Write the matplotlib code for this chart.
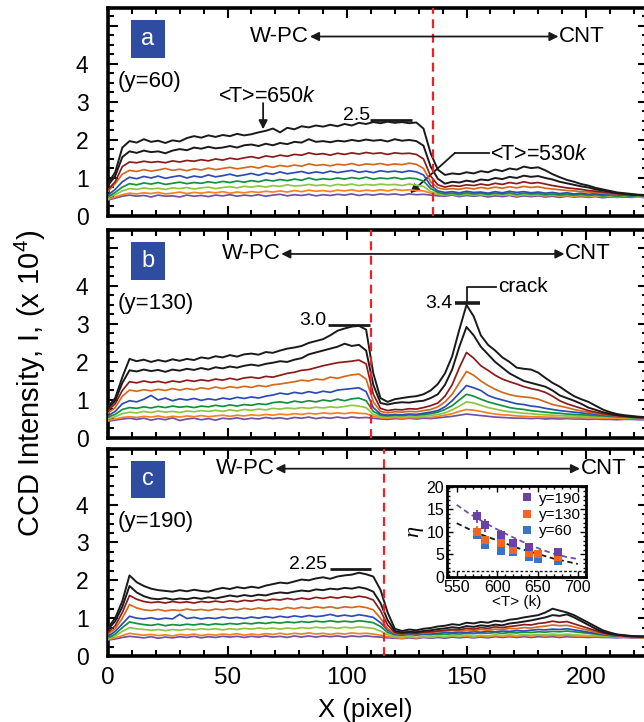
import matplotlib
matplotlib.use("Agg")
import matplotlib.pyplot as plt
from matplotlib.patches import Rectangle
from matplotlib.lines import Line2D
from matplotlib.ticker import MultipleLocator

plt.rcParams['font.family'] = ['Liberation Sans', 'DejaVu Sans']
plt.rcParams['mathtext.fontset'] = 'custom'
plt.rcParams['mathtext.rm'] = 'Liberation Sans'
plt.rcParams['mathtext.it'] = 'Liberation Sans:italic'
plt.rcParams['mathtext.bf'] = 'Liberation Sans:bold'

# ---------------- data ----------------
x_pixel = list(range(0, 226, 3))

series_colors = ['#1a1a1a', '#1a1a1a', '#8b1a1a', '#d2691e', '#2e4bb3',
                 '#139040', '#8dc641', '#f58220', '#7350a0']

# panel a (y=60)
a_black1 = [0.85, 1.15, 1.80, 1.97, 1.93, 2.02, 1.95, 1.98, 1.92, 1.99,
            1.96, 2.05, 2.10, 2.06, 2.12, 2.08, 2.13, 2.10, 2.16, 2.12,
            2.15, 2.20, 2.24, 2.30, 2.20, 2.32, 2.28, 2.36, 2.33, 2.38,
            2.35, 2.40, 2.36, 2.42, 2.38, 2.45, 2.42, 2.47, 2.44, 2.48,
            2.45, 2.47, 2.44, 2.46, 2.30, 1.65, 1.22, 1.08, 1.12, 1.10,
            1.15, 1.12, 1.18, 1.15, 1.22, 1.18, 1.25, 1.22, 1.30, 1.26,
            1.28, 1.20, 1.10, 1.02, 0.95, 0.90, 0.84, 0.80, 0.74, 0.70,
            0.66, 0.62, 0.60, 0.58, 0.56, 0.55]
a_black2 = [0.80, 1.05, 1.55, 1.70, 1.66, 1.72, 1.68, 1.70, 1.65, 1.72,
            1.76, 1.73, 1.80, 1.77, 1.82, 1.78, 1.80, 1.84, 1.80, 1.86,
            1.88, 1.84, 1.90, 1.86, 1.92, 1.89, 1.95, 1.93, 2.02, 1.95,
            1.97, 1.94, 1.98, 1.96, 2.00, 1.97, 2.01, 1.98, 2.00, 1.96,
            2.02, 1.98, 2.00, 1.97, 1.85, 1.30, 0.98, 0.85, 0.90, 0.88,
            0.93, 0.90, 0.96, 0.94, 1.00, 0.97, 1.03, 1.00, 1.06, 1.03,
            1.05, 1.00, 0.96, 0.90, 0.86, 0.82, 0.78, 0.75, 0.70, 0.67,
            0.64, 0.60, 0.58, 0.56, 0.55, 0.54]
a_darkred = [0.70, 0.90, 1.30, 1.42, 1.40, 1.44, 1.41, 1.43, 1.40, 1.45,
             1.42, 1.46, 1.44, 1.48, 1.45, 1.50, 1.47, 1.52, 1.49, 1.53,
             1.56, 1.52, 1.58, 1.55, 1.60, 1.57, 1.62, 1.60, 1.66, 1.62,
             1.64, 1.60, 1.65, 1.62, 1.66, 1.63, 1.67, 1.64, 1.66, 1.62,
             1.66, 1.64, 1.65, 1.62, 1.50, 1.05, 0.82, 0.76, 0.80, 0.78,
             0.82, 0.80, 0.84, 0.81, 0.86, 0.83, 0.88, 0.85, 0.90, 0.86,
             0.88, 0.84, 0.80, 0.77, 0.74, 0.72, 0.70, 0.67, 0.65, 0.63,
             0.61, 0.59, 0.58, 0.56, 0.55, 0.54]
a_brown = [0.65, 0.85, 1.10, 1.20, 1.17, 1.22, 1.18, 1.21, 1.25, 1.20,
           1.23, 1.19, 1.24, 1.21, 1.26, 1.22, 1.25, 1.28, 1.24, 1.27,
           1.30, 1.26, 1.32, 1.28, 1.33, 1.30, 1.34, 1.31, 1.37, 1.33,
           1.35, 1.32, 1.36, 1.34, 1.38, 1.33, 1.37, 1.35, 1.38, 1.34,
           1.37, 1.35, 1.39, 1.36, 1.25, 0.90, 0.74, 0.70, 0.72, 0.70,
           0.74, 0.71, 0.75, 0.72, 0.76, 0.73, 0.77, 0.74, 0.78, 0.75,
           0.77, 0.73, 0.71, 0.69, 0.67, 0.66, 0.64, 0.63, 0.62, 0.60,
           0.59, 0.58, 0.57, 0.56, 0.55, 0.54]
a_blue = [0.55, 0.70, 0.90, 1.02, 0.98, 1.04, 1.00, 1.05, 0.99, 1.03,
          1.06, 1.00, 1.05, 1.02, 1.08, 1.03, 1.06, 1.10, 1.05, 1.08,
          1.12, 1.07, 1.13, 1.10, 1.16, 1.11, 1.14, 1.17, 1.12, 1.16,
          1.13, 1.18, 1.14, 1.17, 1.20, 1.15, 1.18, 1.14, 1.19, 1.16,
          1.18, 1.15, 1.19, 1.16, 1.08, 0.80, 0.66, 0.62, 0.64, 0.61,
          0.65, 0.62, 0.63, 0.60, 0.64, 0.61, 0.65, 0.62, 0.64, 0.61,
          0.63, 0.60, 0.62, 0.59, 0.61, 0.58, 0.60, 0.57, 0.59, 0.56,
          0.58, 0.56, 0.55, 0.54, 0.55, 0.53]
a_green = [0.50, 0.62, 0.76, 0.85, 0.82, 0.87, 0.84, 0.88, 0.83, 0.86,
           0.89, 0.85, 0.88, 0.86, 0.90, 0.87, 0.91, 0.88, 0.92, 0.89,
           0.93, 0.90, 0.95, 0.92, 0.96, 0.93, 0.97, 0.94, 1.00, 0.95,
           0.98, 0.96, 1.00, 0.97, 1.01, 0.98, 1.02, 0.97, 1.00, 0.98,
           1.01, 0.97, 1.00, 0.98, 0.92, 0.72, 0.62, 0.58, 0.60, 0.57,
           0.61, 0.58, 0.60, 0.57, 0.60, 0.58, 0.61, 0.57, 0.60, 0.58,
           0.59, 0.56, 0.58, 0.55, 0.57, 0.55, 0.57, 0.54, 0.56, 0.53,
           0.55, 0.52, 0.54, 0.52, 0.54, 0.52]
a_lgreen = [0.48, 0.56, 0.66, 0.72, 0.70, 0.74, 0.71, 0.73, 0.70, 0.74,
            0.72, 0.75, 0.71, 0.74, 0.76, 0.72, 0.75, 0.77, 0.74, 0.78,
            0.76, 0.79, 0.76, 0.80, 0.78, 0.82, 0.79, 0.80, 0.83, 0.80,
            0.82, 0.79, 0.83, 0.81, 0.84, 0.80, 0.83, 0.81, 0.84, 0.82,
            0.83, 0.80, 0.84, 0.81, 0.78, 0.64, 0.58, 0.56, 0.58, 0.55,
            0.58, 0.56, 0.57, 0.55, 0.58, 0.55, 0.57, 0.54, 0.57, 0.55,
            0.56, 0.54, 0.56, 0.53, 0.55, 0.53, 0.55, 0.52, 0.54, 0.52,
            0.53, 0.51, 0.53, 0.52, 0.51, 0.52]
a_orange = [0.44, 0.50, 0.56, 0.60, 0.58, 0.61, 0.59, 0.62, 0.58, 0.60,
            0.63, 0.59, 0.62, 0.60, 0.63, 0.61, 0.64, 0.60, 0.63, 0.61,
            0.64, 0.62, 0.65, 0.63, 0.66, 0.63, 0.67, 0.64, 0.68, 0.65,
            0.67, 0.64, 0.68, 0.66, 0.69, 0.65, 0.68, 0.66, 0.69, 0.66,
            0.70, 0.67, 0.69, 0.67, 0.66, 0.60, 0.57, 0.55, 0.57, 0.54,
            0.57, 0.55, 0.56, 0.54, 0.57, 0.55, 0.56, 0.53, 0.56, 0.54,
            0.55, 0.53, 0.55, 0.52, 0.54, 0.52, 0.54, 0.51, 0.53, 0.51,
            0.52, 0.50, 0.52, 0.51, 0.50, 0.51]
a_purple = [0.42, 0.47, 0.52, 0.55, 0.52, 0.54, 0.50, 0.55, 0.52, 0.53,
            0.50, 0.55, 0.52, 0.54, 0.51, 0.55, 0.53, 0.56, 0.52, 0.55,
            0.53, 0.56, 0.52, 0.55, 0.57, 0.53, 0.56, 0.54, 0.57, 0.53,
            0.56, 0.54, 0.57, 0.55, 0.58, 0.54, 0.57, 0.55, 0.58, 0.56,
            0.58, 0.55, 0.58, 0.56, 0.57, 0.55, 0.53, 0.52, 0.55, 0.51,
            0.54, 0.52, 0.54, 0.50, 0.53, 0.51, 0.54, 0.50, 0.53, 0.51,
            0.53, 0.50, 0.52, 0.49, 0.52, 0.50, 0.51, 0.49, 0.51, 0.48,
            0.50, 0.49, 0.50, 0.49, 0.50, 0.48]

# panel b (y=130)
b_black1 = [0.82, 1.05, 1.60, 2.08, 2.02, 2.06, 2.00, 2.05, 2.01, 2.07,
            2.03, 2.08, 2.05, 2.12, 2.09, 2.15, 2.12, 2.18, 2.14, 2.20,
            2.22, 2.19, 2.26, 2.24, 2.30, 2.35, 2.38, 2.42, 2.50, 2.55,
            2.60, 2.70, 2.82, 2.88, 2.93, 2.95, 2.85, 1.70, 1.05, 0.95,
            1.02, 1.05, 1.08, 1.10, 1.15, 1.25, 1.42, 1.70, 2.15, 2.85,
            3.50, 3.20, 2.70, 2.45, 2.30, 2.12, 2.00, 1.85, 1.82, 1.80,
            1.72, 1.58, 1.45, 1.35, 1.22, 1.10, 1.02, 0.95, 0.85, 0.75,
            0.68, 0.63, 0.60, 0.58, 0.56, 0.55]
b_black2 = [0.78, 0.98, 1.45, 1.78, 1.75, 1.80, 1.76, 1.79, 1.74, 1.80,
            1.77, 1.82, 1.79, 1.84, 1.80, 1.86, 1.83, 1.88, 1.85, 1.90,
            1.93, 1.90, 1.95, 1.98, 2.02, 2.00, 2.06, 2.10, 2.20, 2.25,
            2.30, 2.35, 2.40, 2.48, 2.42, 2.45, 2.30, 1.40, 0.92, 0.88,
            0.92, 0.94, 0.93, 0.96, 0.98, 1.05, 1.15, 1.40, 1.80, 2.40,
            2.92, 2.70, 2.40, 2.20, 2.00, 1.85, 1.70, 1.60, 1.50, 1.45,
            1.40, 1.35, 1.25, 1.12, 1.05, 0.98, 0.90, 0.80, 0.74, 0.68,
            0.64, 0.60, 0.58, 0.56, 0.55, 0.54]
b_darkred = [0.72, 0.90, 1.25, 1.48, 1.45, 1.50, 1.46, 1.49, 1.45, 1.50,
             1.47, 1.52, 1.49, 1.53, 1.50, 1.55, 1.52, 1.57, 1.53, 1.58,
             1.60, 1.57, 1.62, 1.60, 1.65, 1.70, 1.73, 1.78, 1.80, 1.85,
             1.90, 1.94, 1.98, 2.00, 2.02, 2.05, 1.95, 1.15, 0.78, 0.72,
             0.75, 0.74, 0.77, 0.76, 0.80, 0.85, 0.92, 1.10, 1.40, 1.85,
             2.25, 2.10, 1.90, 1.78, 1.65, 1.55, 1.48, 1.42, 1.35, 1.30,
             1.26, 1.20, 1.10, 0.98, 0.90, 0.84, 0.78, 0.72, 0.68, 0.64,
             0.61, 0.59, 0.57, 0.55, 0.54, 0.53]
b_brown = [0.65, 0.80, 1.10, 1.26, 1.23, 1.27, 1.24, 1.28, 1.25, 1.30,
           1.26, 1.30, 1.27, 1.32, 1.29, 1.34, 1.30, 1.35, 1.32, 1.36,
           1.33, 1.38, 1.35, 1.40, 1.42, 1.45, 1.48, 1.52, 1.50, 1.55,
           1.53, 1.60, 1.57, 1.62, 1.66, 1.68, 1.55, 0.95, 0.70, 0.66,
           0.69, 0.68, 0.70, 0.69, 0.72, 0.75, 0.82, 0.95, 1.15, 1.45,
           1.75, 1.65, 1.50, 1.38, 1.28, 1.20, 1.14, 1.10, 1.08, 1.06,
           1.02, 0.95, 0.88, 0.84, 0.80, 0.75, 0.71, 0.68, 0.65, 0.62,
           0.60, 0.58, 0.56, 0.55, 0.54, 0.53]
b_blue = [0.58, 0.70, 0.90, 0.98, 0.95, 1.02, 1.12, 1.00, 1.05, 0.98,
          1.03, 1.00, 1.04, 0.99, 1.03, 1.00, 1.05, 1.02, 1.07, 1.04,
          1.08, 1.05, 1.10, 1.13, 1.18, 1.15, 1.20, 1.17, 1.22, 1.18,
          1.23, 1.20, 1.26, 1.28, 1.30, 1.32, 1.22, 0.80, 0.63, 0.60,
          0.62, 0.61, 0.63, 0.62, 0.65, 0.68, 0.72, 0.82, 0.98, 1.18,
          1.38, 1.32, 1.25, 1.12, 1.05, 1.00, 0.95, 0.90, 0.88, 0.84,
          0.82, 0.78, 0.75, 0.72, 0.70, 0.68, 0.66, 0.64, 0.62, 0.60,
          0.59, 0.57, 0.56, 0.55, 0.54, 0.53]
b_green = [0.55, 0.62, 0.75, 0.80, 0.78, 0.82, 0.79, 0.83, 0.80, 0.84,
           0.81, 0.83, 0.80, 0.84, 0.82, 0.86, 0.83, 0.87, 0.84, 0.88,
           0.86, 0.90, 0.88, 0.93, 0.95, 0.92, 0.97, 0.94, 0.98, 0.95,
           1.00, 0.97, 1.02, 0.98, 1.03, 1.05, 0.98, 0.70, 0.60, 0.58,
           0.60, 0.59, 0.61, 0.60, 0.62, 0.64, 0.68, 0.75, 0.85, 1.00,
           1.15, 1.10, 1.02, 0.95, 0.90, 0.85, 0.80, 0.77, 0.75, 0.72,
           0.70, 0.68, 0.66, 0.65, 0.63, 0.62, 0.61, 0.60, 0.59, 0.58,
           0.57, 0.56, 0.55, 0.54, 0.53, 0.53]
b_lgreen = [0.50, 0.56, 0.64, 0.68, 0.66, 0.70, 0.67, 0.71, 0.68, 0.70,
            0.67, 0.71, 0.69, 0.72, 0.70, 0.73, 0.70, 0.74, 0.71, 0.75,
            0.73, 0.76, 0.74, 0.78, 0.76, 0.79, 0.77, 0.80, 0.78, 0.81,
            0.79, 0.82, 0.80, 0.83, 0.86, 0.84, 0.80, 0.62, 0.56, 0.55,
            0.56, 0.55, 0.57, 0.56, 0.58, 0.59, 0.62, 0.66, 0.74, 0.84,
            0.95, 0.92, 0.86, 0.80, 0.76, 0.72, 0.69, 0.67, 0.65, 0.64,
            0.62, 0.61, 0.60, 0.59, 0.58, 0.58, 0.57, 0.56, 0.56, 0.55,
            0.55, 0.54, 0.54, 0.53, 0.53, 0.52]
b_orange = [0.46, 0.50, 0.54, 0.56, 0.54, 0.57, 0.55, 0.58, 0.54, 0.57,
            0.55, 0.58, 0.56, 0.59, 0.56, 0.58, 0.60, 0.57, 0.60, 0.58,
            0.61, 0.59, 0.62, 0.60, 0.63, 0.61, 0.64, 0.62, 0.65, 0.63,
            0.66, 0.64, 0.66, 0.64, 0.67, 0.65, 0.64, 0.57, 0.53, 0.52,
            0.54, 0.52, 0.54, 0.53, 0.55, 0.54, 0.57, 0.60, 0.64, 0.70,
            0.75, 0.73, 0.70, 0.66, 0.63, 0.61, 0.60, 0.58, 0.57, 0.56,
            0.56, 0.55, 0.55, 0.54, 0.54, 0.53, 0.54, 0.53, 0.53, 0.52,
            0.52, 0.52, 0.51, 0.51, 0.51, 0.50]
b_purple = [0.44, 0.47, 0.50, 0.52, 0.49, 0.52, 0.47, 0.51, 0.48, 0.53,
            0.46, 0.50, 0.52, 0.48, 0.51, 0.47, 0.52, 0.50, 0.53, 0.49,
            0.52, 0.50, 0.54, 0.51, 0.53, 0.50, 0.54, 0.52, 0.55, 0.51,
            0.54, 0.52, 0.55, 0.52, 0.55, 0.53, 0.54, 0.52, 0.50, 0.49,
            0.51, 0.50, 0.52, 0.50, 0.52, 0.51, 0.53, 0.55, 0.57, 0.60,
            0.63, 0.61, 0.59, 0.57, 0.55, 0.54, 0.53, 0.52, 0.52, 0.51,
            0.52, 0.50, 0.51, 0.50, 0.51, 0.50, 0.50, 0.49, 0.50, 0.49,
            0.49, 0.48, 0.49, 0.49, 0.48, 0.48]

# panel c (y=190)
c_black1 = [0.75, 1.00, 1.45, 2.13, 1.95, 1.85, 1.78, 1.74, 1.72, 1.70,
            1.74, 1.71, 1.75, 1.72, 1.70, 1.76, 1.80, 1.77, 1.82, 1.79,
            1.83, 1.80, 1.86, 1.90, 1.94, 1.92, 1.97, 2.02, 2.00, 2.05,
            2.08, 2.04, 2.10, 2.13, 2.15, 2.20, 2.16, 2.10, 1.75, 1.15,
            0.72, 0.66, 0.70, 0.68, 0.72, 0.74, 0.78, 0.80, 0.84, 0.82,
            0.88, 0.86, 0.90, 0.88, 0.93, 0.91, 0.96, 0.98, 1.02, 1.05,
            1.08, 1.15, 1.25, 1.20, 1.15, 1.08, 0.98, 0.88, 0.78, 0.68,
            0.62, 0.57, 0.55, 0.53, 0.52, 0.52]
c_black2 = [0.70, 0.92, 1.30, 1.85, 1.68, 1.58, 1.52, 1.50, 1.53, 1.49,
            1.52, 1.50, 1.54, 1.51, 1.55, 1.52, 1.56, 1.60, 1.57, 1.61,
            1.58, 1.62, 1.60, 1.65, 1.68, 1.66, 1.70, 1.73, 1.71, 1.76,
            1.74, 1.78, 1.76, 1.80, 1.78, 1.82, 1.78, 1.70, 1.40, 0.95,
            0.66, 0.62, 0.64, 0.63, 0.66, 0.68, 0.71, 0.73, 0.76, 0.74,
            0.79, 0.77, 0.81, 0.79, 0.83, 0.81, 0.86, 0.88, 0.91, 0.94,
            0.98, 1.02, 1.08, 1.06, 1.10, 1.02, 0.92, 0.82, 0.72, 0.64,
            0.59, 0.56, 0.54, 0.52, 0.52, 0.51]
c_darkred = [0.62, 0.80, 1.15, 1.60, 1.50, 1.44, 1.41, 1.43, 1.40, 1.44,
             1.41, 1.43, 1.40, 1.44, 1.42, 1.45, 1.42, 1.46, 1.43, 1.47,
             1.45, 1.49, 1.46, 1.50, 1.48, 1.52, 1.49, 1.53, 1.50, 1.55,
             1.52, 1.56, 1.53, 1.57, 1.54, 1.58, 1.55, 1.48, 1.20, 0.82,
             0.62, 0.59, 0.61, 0.60, 0.63, 0.64, 0.66, 0.68, 0.70, 0.69,
             0.73, 0.71, 0.75, 0.73, 0.77, 0.75, 0.78, 0.80, 0.83, 0.82,
             0.86, 0.88, 0.92, 0.89, 0.91, 0.85, 0.79, 0.73, 0.67, 0.61,
             0.57, 0.55, 0.53, 0.52, 0.51, 0.51]
c_brown = [0.58, 0.72, 1.00, 1.36, 1.27, 1.22, 1.20, 1.23, 1.19, 1.22,
           1.20, 1.24, 1.21, 1.23, 1.20, 1.24, 1.22, 1.25, 1.22, 1.26,
           1.23, 1.27, 1.24, 1.26, 1.23, 1.28, 1.25, 1.29, 1.26, 1.30,
           1.27, 1.30, 1.26, 1.30, 1.28, 1.31, 1.28, 1.22, 1.00, 0.72,
           0.60, 0.58, 0.60, 0.59, 0.61, 0.62, 0.64, 0.66, 0.67, 0.65,
           0.68, 0.67, 0.70, 0.68, 0.71, 0.70, 0.73, 0.72, 0.75, 0.74,
           0.77, 0.79, 0.82, 0.80, 0.81, 0.77, 0.72, 0.68, 0.63, 0.59,
           0.56, 0.54, 0.52, 0.51, 0.51, 0.50]
c_blue = [0.52, 0.65, 0.85, 1.05, 1.00, 0.98, 1.01, 0.97, 1.00, 0.98,
          1.10, 0.99, 1.02, 0.98, 1.01, 0.99, 1.03, 1.00, 1.02, 0.99,
          1.03, 1.00, 1.04, 1.01, 1.05, 1.02, 1.06, 1.03, 1.07, 1.04,
          1.06, 1.10, 1.05, 1.08, 1.05, 1.09, 1.06, 1.02, 0.88, 0.68,
          0.58, 0.56, 0.58, 0.57, 0.59, 0.58, 0.60, 0.62, 0.61, 0.63,
          0.62, 0.64, 0.63, 0.65, 0.64, 0.66, 0.65, 0.67, 0.66, 0.68,
          0.70, 0.69, 0.71, 0.70, 0.72, 0.69, 0.66, 0.63, 0.60, 0.57,
          0.55, 0.53, 0.52, 0.51, 0.50, 0.50]
c_green = [0.48, 0.58, 0.75, 0.90, 0.86, 0.83, 0.81, 0.84, 0.80, 0.83,
           0.81, 0.84, 0.82, 0.85, 0.82, 0.85, 0.83, 0.86, 0.84, 0.87,
           0.85, 0.88, 0.86, 0.89, 0.87, 0.90, 0.88, 0.91, 0.89, 0.92,
           0.90, 0.93, 0.90, 0.92, 0.90, 0.93, 0.91, 0.88, 0.78, 0.62,
           0.56, 0.55, 0.57, 0.55, 0.57, 0.56, 0.58, 0.57, 0.59, 0.58,
           0.60, 0.59, 0.61, 0.60, 0.62, 0.60, 0.62, 0.61, 0.63, 0.62,
           0.64, 0.63, 0.65, 0.64, 0.66, 0.64, 0.62, 0.60, 0.58, 0.56,
           0.54, 0.53, 0.52, 0.51, 0.50, 0.50]
c_lgreen = [0.45, 0.53, 0.65, 0.75, 0.72, 0.70, 0.68, 0.70, 0.67, 0.70,
            0.68, 0.71, 0.69, 0.72, 0.70, 0.72, 0.69, 0.72, 0.70, 0.73,
            0.71, 0.74, 0.72, 0.74, 0.71, 0.74, 0.72, 0.75, 0.73, 0.76,
            0.74, 0.76, 0.73, 0.76, 0.74, 0.77, 0.75, 0.73, 0.66, 0.56,
            0.52, 0.50, 0.53, 0.49, 0.52, 0.50, 0.53, 0.51, 0.54, 0.52,
            0.55, 0.52, 0.55, 0.53, 0.56, 0.54, 0.56, 0.54, 0.57, 0.55,
            0.57, 0.56, 0.58, 0.56, 0.58, 0.56, 0.55, 0.54, 0.54, 0.53,
            0.52, 0.52, 0.51, 0.50, 0.50, 0.49]
c_orange = [0.44, 0.48, 0.54, 0.60, 0.57, 0.55, 0.57, 0.54, 0.56, 0.53,
            0.57, 0.55, 0.58, 0.54, 0.57, 0.55, 0.58, 0.56, 0.59, 0.55,
            0.58, 0.56, 0.59, 0.57, 0.60, 0.57, 0.60, 0.58, 0.61, 0.58,
            0.60, 0.57, 0.60, 0.58, 0.61, 0.59, 0.60, 0.58, 0.55, 0.51,
            0.49, 0.47, 0.50, 0.48, 0.51, 0.49, 0.52, 0.50, 0.53, 0.51,
            0.53, 0.50, 0.53, 0.51, 0.54, 0.52, 0.54, 0.52, 0.55, 0.53,
            0.55, 0.53, 0.55, 0.53, 0.55, 0.53, 0.53, 0.52, 0.52, 0.51,
            0.51, 0.50, 0.50, 0.49, 0.49, 0.48]
c_purple = [0.42, 0.45, 0.49, 0.52, 0.50, 0.48, 0.51, 0.47, 0.50, 0.48,
            0.51, 0.49, 0.52, 0.48, 0.51, 0.49, 0.52, 0.50, 0.52, 0.49,
            0.52, 0.50, 0.53, 0.50, 0.52, 0.49, 0.53, 0.50, 0.53, 0.50,
            0.53, 0.51, 0.53, 0.50, 0.53, 0.51, 0.53, 0.51, 0.50, 0.48,
            0.47, 0.46, 0.48, 0.46, 0.49, 0.47, 0.49, 0.47, 0.50, 0.48,
            0.50, 0.48, 0.50, 0.48, 0.51, 0.49, 0.51, 0.49, 0.51, 0.49,
            0.51, 0.50, 0.51, 0.49, 0.51, 0.50, 0.50, 0.49, 0.50, 0.49,
            0.49, 0.48, 0.49, 0.48, 0.48, 0.47]

panel_a = [a_black1, a_black2, a_darkred, a_brown, a_blue, a_green, a_lgreen, a_orange, a_purple]
panel_b = [b_black1, b_black2, b_darkred, b_brown, b_blue, b_green, b_lgreen, b_orange, b_purple]
panel_c = [c_black1, c_black2, c_darkred, c_brown, c_blue, c_green, c_lgreen, c_orange, c_purple]

panel_letters = ['a', 'b', 'c']
panel_rows = ['(y=60)', '(y=130)', '(y=190)']
interface_x = [136, 110, 115.5]

# inset data
T_190 = [575, 585, 605, 620, 640, 675]
eta_190 = [13.4, 11.4, 9.3, 7.4, 6.5, 5.5]
err_190 = [1.5, 1.5, 1.0, 0.9, 0.8, 0.8]
T_130 = [575, 585, 605, 620, 640, 650, 675]
eta_130 = [10.0, 8.1, 7.4, 6.0, 5.2, 5.0, 4.4]
err_130 = [1.2, 0.6, 0.8, 0.6, 0.6, 0.5, 0.5]
T_60 = [575, 585, 605, 620, 640, 650, 675]
eta_60 = [9.3, 7.0, 5.8, 5.4, 4.4, 4.0, 3.5]
err_60 = [1.0, 0.6, 0.6, 0.5, 0.5, 0.5, 0.4]
T_fit = [550, 565, 580, 595, 610, 625, 640, 655, 670, 685, 700]
fit_190 = [16.0, 14.1, 12.5, 11.0, 9.6, 8.3, 7.1, 6.0, 5.1, 4.4, 3.9]
fit_low = [11.9, 10.6, 9.4, 8.4, 7.4, 6.4, 5.6, 4.8, 4.0, 3.4, 2.8]
eta_floor = 1.3

# ---------------- figure ----------------
fig = plt.figure(figsize=(6.44, 7.22), dpi=100)
W, H = 644.0, 722.0
left_px, xunit_px = 108.0, 2.39
xmax = 226
panel_px = [(8, 216), (230, 438), (449, 656)]
axes = []
for (top, bot) in panel_px:
    ax = fig.add_axes([left_px / W, 1 - bot / H, xmax * xunit_px / W, (bot - top) / H])
    axes.append(ax)

arrow_y = [4.72, 4.84, 4.95]
arrow_x = [(84.5, 188.5), (72.5, 191.0), (70.0, 197.5)]

for k, (ax, curves) in enumerate(zip(axes, [panel_a, panel_b, panel_c])):
    for ci in range(len(curves) - 1, -1, -1):
        lw = 1.4 if ci < 2 else 1.25
        ax.plot(x_pixel, curves[ci], color=series_colors[ci], lw=lw, zorder=3 + (9 - ci) * 0.01)
    ax.set_xlim(0, xmax)
    ax.set_ylim(0, 5.47)
    ax.xaxis.set_major_locator(MultipleLocator(50))
    ax.xaxis.set_minor_locator(MultipleLocator(10))
    ax.set_yticks([0, 1, 2, 3, 4, 5])
    ax.set_yticklabels(['0', '1', '2', '3', '4', ''])
    ax.yaxis.set_minor_locator(MultipleLocator(0.25))
    ax.tick_params(which='both', direction='in', top=True, right=True, width=1.5)
    ax.tick_params(which='major', length=7.5)
    ax.tick_params(which='minor', length=4)
    ax.tick_params(axis='y', labelsize=16.5, pad=14)
    ax.tick_params(axis='x', labelsize=17.5, pad=8)
    if k < 2:
        ax.tick_params(axis='x', labelbottom=False)
    for s in ax.spines.values():
        s.set_linewidth(2.6)
    # interface line
    ax.axvline(interface_x[k], color='#ee2222', lw=1.6, ls=(0, (4, 2.5)), zorder=6)
    # panel letter box
    ax.add_patch(Rectangle((0.0426, 0.762), 0.063, 0.182, transform=ax.transAxes,
                           facecolor='#2e4da1', edgecolor='none', zorder=7))
    ax.text(0.0426 + 0.0315, 0.762 + 0.091, panel_letters[k], transform=ax.transAxes,
            color='white', fontsize=17, ha='center', va='center', zorder=8)
    ax.text(0.017, 0.648, panel_rows[k], transform=ax.transAxes, fontsize=16,
            ha='left', va='center')
    # W-PC <-> CNT
    xl, xr = arrow_x[k]
    ax.annotate('', xy=(xl, arrow_y[k]), xytext=(xr, arrow_y[k]),
                arrowprops=dict(arrowstyle='<|-|>', color='#1a1a1a', lw=1.3,
                                mutation_scale=13, shrinkA=0, shrinkB=0), zorder=7)
    ax.text(xl - 0.3, arrow_y[k], 'W-PC', fontsize=16, ha='right', va='center')
    ax.text(xr + 0.3, arrow_y[k], 'CNT', fontsize=16, ha='left', va='center')

ax_a, ax_b, ax_c = axes
hk = dict(color='#1a1a1a', lw=2.0, solid_capstyle='butt')
arr = dict(arrowstyle='-|>', color='#1a1a1a', lw=1.3, mutation_scale=13, shrinkA=0, shrinkB=0)

# panel a annotations
ax_a.text(46, 3.13, r'<T>=650$\it{k}$', fontsize=15.5, ha='left', va='center')
ax_a.annotate('', xy=(64.9, 2.28), xytext=(64.9, 2.97), arrowprops=arr)
ax_a.plot([109.6, 127.2], [2.53, 2.53], **hk)
ax_a.text(109.5, 2.53, '2.5', fontsize=14, ha='right', va='baseline')
ax_a.text(160, 1.62, r'<T>=530$\it{k}$', fontsize=15.5, ha='left', va='center')
ax_a.plot([159.4, 145.2], [1.66, 1.66], color='#1a1a1a', lw=1.3)
ax_a.annotate('', xy=(126.4, 0.6), xytext=(145.2, 1.66), arrowprops=arr)

# panel b annotations
ax_b.plot([92, 109.5], [2.97, 2.97], **hk)
ax_b.text(91.5, 2.97, '3.0', fontsize=14, ha='right', va='baseline')
ax_b.plot([145, 155.5], [3.55, 3.55], color='#1a1a1a', lw=2.6, solid_capstyle='butt')
ax_b.text(144, 3.55, '3.4', fontsize=14, ha='right', va='center')
ax_b.plot([150.3, 150.3, 162.5], [3.55, 3.97, 3.97], color='#1a1a1a', lw=1.3)
ax_b.text(163.2, 3.99, 'crack', fontsize=15, ha='left', va='center')

# panel c annotations
ax_c.plot([93, 110], [2.29, 2.29], **hk)
ax_c.text(91.5, 2.29, '2.25', fontsize=14, ha='right', va='baseline')

# axis labels
fig.text(30 / W, 1 - 383 / H, 'CCD Intensity, I, (x 10$^4$)', rotation=90,
         fontsize=21, ha='center', va='center')
fig.text(365 / W, 1 - 710 / H, 'X (pixel)', fontsize=18.5, ha='center', va='center')

# inset
axi = fig.add_axes([447 / W, 1 - 577 / H, 139 / W, 91 / H])
axi.set_facecolor('white')
axi.plot(T_fit, fit_190, color='#7350a0', lw=1.3, ls=(0, (3, 2)))
axi.plot(T_fit, fit_low, color='#1a1a1a', lw=1.3, ls=(0, (3, 2)))
axi.axhline(eta_floor, color='#1a1a1a', lw=1.0, ls=(0, (2, 1.5)))
mk = dict(fmt='s', ms=5.5, elinewidth=1.3, capsize=2, capthick=1.2, mew=0)
axi.errorbar(T_60, eta_60, yerr=err_60, color='#3a74c4', ecolor='#3a74c4', **mk)
axi.errorbar(T_130, eta_130, yerr=err_130, color='#f26522', ecolor='#f26522', **mk)
axi.errorbar(T_190, eta_190, yerr=err_190, color='#6a42a6', ecolor='#6a42a6', **mk)
axi.set_xlim(538, 710)
axi.set_ylim(-0.1, 20.2)
axi.xaxis.set_major_locator(MultipleLocator(50))
axi.xaxis.set_minor_locator(MultipleLocator(10))
axi.yaxis.set_major_locator(MultipleLocator(5))
axi.yaxis.set_minor_locator(MultipleLocator(1))
axi.tick_params(which='both', direction='in', top=True, right=True, width=1.0,
                labelsize=11.5, pad=2)
axi.tick_params(which='major', length=4)
axi.tick_params(which='minor', length=2)
for s in axi.spines.values():
    s.set_linewidth(2.0)
axi.set_xlabel('<T> (k)', fontsize=11, labelpad=0)
axi.set_ylabel('η', fontsize=16, family='Liberation Serif', style='italic', labelpad=2)
handles = [Line2D([], [], ls='none', marker='s', ms=6, mew=0, color=c)
           for c in ['#6a42a6', '#f26522', '#3a74c4']]
axi.legend(handles, ['y=190', 'y=130', 'y=60'], loc='upper right', frameon=False,
           fontsize=11, handlelength=0.8, handletextpad=0.4, labelspacing=0.15,
           borderaxespad=0.1, bbox_to_anchor=(1.02, 1.02))

fig.savefig('out.png', dpi=100)
